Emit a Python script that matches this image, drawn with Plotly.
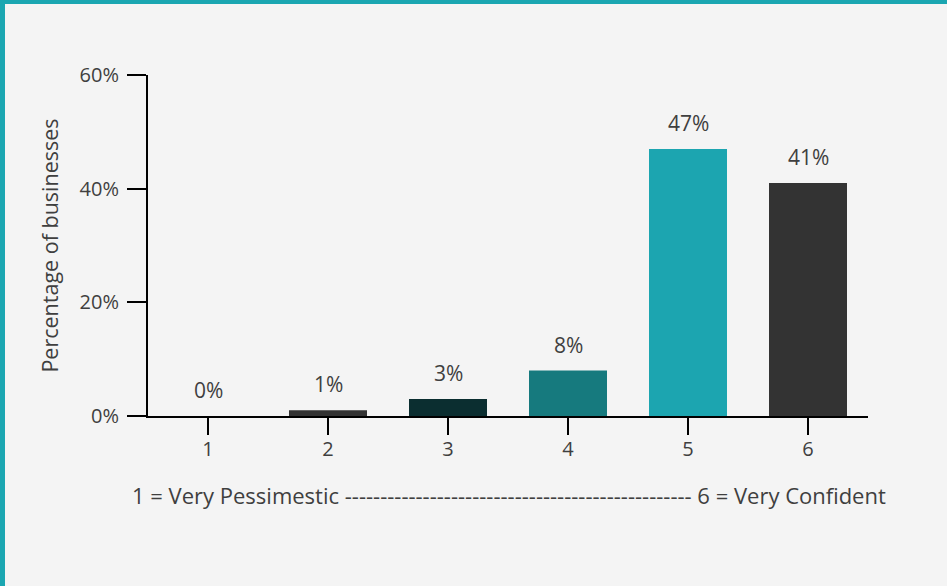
import plotly.graph_objects as go

# Confidence scale categories and share of businesses (%)
categories = ["1", "2", "3", "4", "5", "6"]
shares = [0, 1, 3, 8, 47, 41]
bar_colors = ["#333333", "#333333", "#0b2e30", "#167a7e", "#1ca5b0", "#333333"]
y_ticks = [0, 20, 40, 60]
y_tick_labels = ["0%", "20%", "40%", "60%"]
scale_note = "1 = Very Pessimestic " + "-" * 49 + " 6 = Very Confident"

TEXT = "#3f3f3f"
FONT = "Open Sans"
ACCENT = "#1ba6b1"

W, H = 947, 586
ML, MR, MT, MB = 148, 79, 75, 170
pw, ph = W - ML - MR, H - MT - MB

fig = go.Figure()
fig.add_trace(go.Bar(
    x=[int(c) for c in categories],
    y=shares,
    marker=dict(color=bar_colors, line=dict(width=0)),
    width=0.65,
    hoverinfo="skip",
))

# value labels above each bar
for c, v in zip(categories, shares):
    fig.add_annotation(
        x=int(c), y=v, text=f"{v}%", showarrow=False,
        yanchor="bottom", yshift=10,
        font=dict(family=FONT, size=21, color=TEXT),
    )

# scale explanation below the axis
fig.add_annotation(
    xref="paper", yref="paper", x=(509 - ML) / pw, y=(416 - 495) / ph,
    text=scale_note, showarrow=False, xanchor="center", yanchor="middle",
    font=dict(family=FONT, size=22, color=TEXT),
)

# teal frame along the top and left edges
def px_x(p):
    return (p - ML) / pw

def px_y(p):
    return (H - MB - p) / ph

fig.add_shape(type="rect", xref="paper", yref="paper",
              x0=px_x(-2), x1=px_x(W + 2), y0=px_y(4), y1=px_y(-2),
              fillcolor=ACCENT, line=dict(width=0), layer="above")
fig.add_shape(type="rect", xref="paper", yref="paper",
              x0=px_x(-2), x1=px_x(5), y0=px_y(H + 2), y1=px_y(-2),
              fillcolor=ACCENT, line=dict(width=0), layer="above")

fig.update_layout(
    width=W, height=H,
    margin=dict(l=ML, r=MR, t=MT, b=MB),
    paper_bgcolor="#f4f4f4", plot_bgcolor="#f4f4f4",
    showlegend=False,
    font=dict(family=FONT, color=TEXT, size=18),
    bargap=0.35,
)
fig.update_xaxes(
    range=[0.5, 6.5], tickmode="array",
    tickvals=[int(c) for c in categories], ticktext=categories,
    showline=True, linecolor="black", linewidth=2,
    ticks="outside", ticklen=17, tickwidth=2, tickcolor="black",
    showgrid=False, zeroline=False,
    tickfont=dict(family=FONT, size=20, color=TEXT),
    ticklabelstandoff=-3,
    fixedrange=True,
)
fig.update_yaxes(
    range=[0, 60], tickmode="array", tickvals=y_ticks, ticktext=y_tick_labels,
    showline=True, linecolor="black", linewidth=2,
    ticks="outside", ticklen=19, tickwidth=2, tickcolor="black",
    showgrid=False, zeroline=False,
    tickfont=dict(family=FONT, size=20, color=TEXT),
    ticklabelstandoff=4,
    title=dict(text="Percentage of businesses", standoff=15,
               font=dict(family=FONT, size=21.5, color=TEXT)),
    fixedrange=True,
)

fig.write_html("out.html", config={"displayModeBar": False})
